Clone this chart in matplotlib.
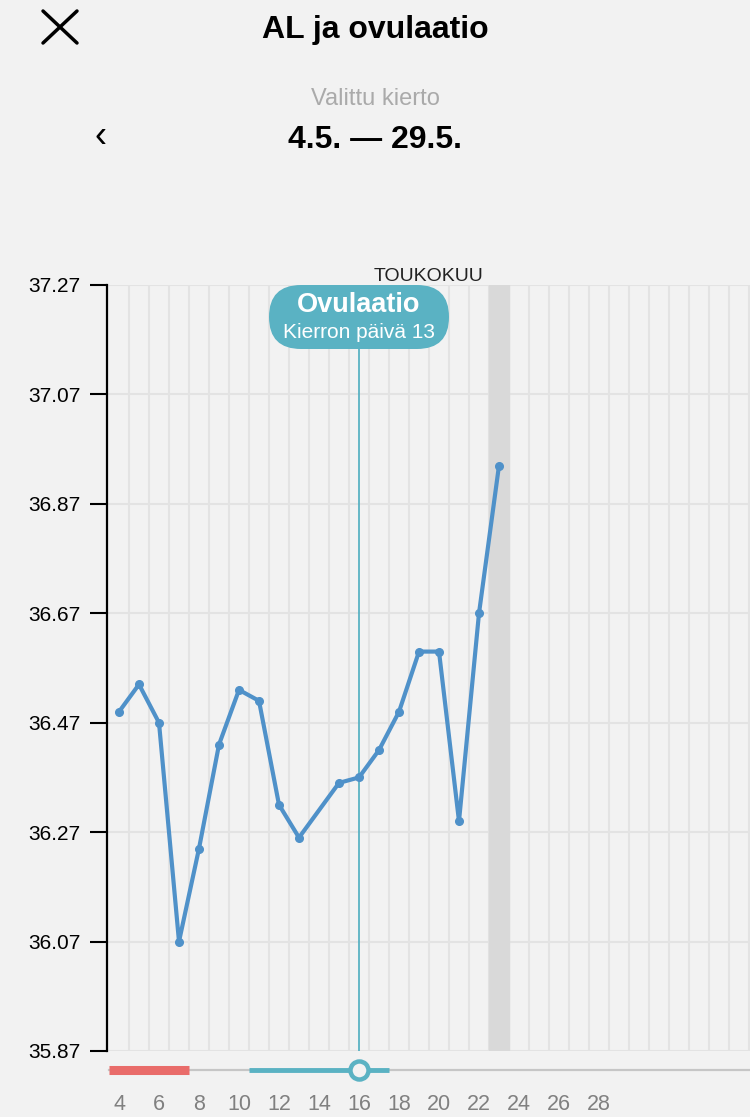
import matplotlib

matplotlib.use('agg')
import matplotlib.pyplot as plt
from matplotlib import transforms
from matplotlib.patches import FancyBboxPatch
from matplotlib.lines import Line2D

plt.rcParams['font.family'] = ['Liberation Sans', 'DejaVu Sans']

# cycle days and basal body temperature (day 14 not measured)
days = [4, 5, 6, 7, 8, 9, 10, 11, 12, 13, 15, 16, 17, 18, 19, 20, 21, 22, 23]
temps = [36.49, 36.54, 36.47, 36.07, 36.24, 36.43, 36.53, 36.51, 36.32, 36.26,
         36.36, 36.37, 36.42, 36.49, 36.60, 36.60, 36.29, 36.67, 36.94]
y_ticks = [35.87, 36.07, 36.27, 36.47, 36.67, 36.87, 37.07, 37.27]
x_ticks = [4, 6, 8, 10, 12, 14, 16, 18, 20, 22, 24, 26, 28]
ovulation_day = 16
cycle_day = 13
today = 23
period_days = (3.5, 7.5)
fertile_days = (10.5, 17.5)

BG = '#f2f2f2'
GRID = '#e3e3e3'
LINE = '#4f91c9'
TEAL = '#5ab2c3'
RED = '#e96c6a'

W, H = 750, 1117
fig = plt.figure(figsize=(W / 100, H / 100), dpi=100, facecolor=BG)


def px_axes(x0, y0, x1, y1):
    # rectangle given in pixels from top-left corner
    return fig.add_axes([x0 / W, 1 - y1 / H, (x1 - x0) / W, (y1 - y0) / H])


xlim = (3.4, 3.4 + (W - 107) / 20.0)

ax = px_axes(107, 285, W, 1051)
ax.set_facecolor(BG)
ax.set_xlim(*xlim)
ax.set_ylim(y_ticks[0], y_ticks[-1])

for s in ['top', 'right', 'bottom']:
    ax.spines[s].set_visible(False)
ax.spines['left'].set_linewidth(1.6)
ax.spines['left'].set_color('black')

ax.set_yticks(y_ticks)
ax.set_yticklabels(['%.2f' % v for v in y_ticks])
ax.tick_params(axis='y', length=12, width=1.5, pad=7, labelsize=15, colors='black')
ax.set_xticks([d + 0.5 for d in range(4, 36)])
ax.tick_params(axis='x', length=0, labelbottom=False)
ax.grid(True, color=GRID, linewidth=1.5)
ax.set_axisbelow(True)

ax.axvspan(today - 0.5, today + 0.5, color='#d9d9d9', zorder=1)
ax.axvline(ovulation_day, color=TEAL, linewidth=1.3, zorder=2)
ax.plot(days, temps, color=LINE, linewidth=3, marker='o', markersize=5.5,
        solid_joinstyle='round', zorder=3, clip_on=False)

# ovulation callout pill, offset in inches from (ovulation_day, top)
trans = fig.dpi_scale_trans + transforms.ScaledTranslation(ovulation_day, y_ticks[-1], ax.transData)
pill = FancyBboxPatch((-0.9, -0.64), 1.8, 0.64, boxstyle='round,pad=0,rounding_size=0.32',
                      transform=trans, facecolor=TEAL, edgecolor='none', zorder=5, clip_on=False)
ax.add_patch(pill)
ax.text(0, -0.20, 'Ovulaatio', transform=trans, ha='center', va='center',
        color='white', fontsize=19.5, fontweight='bold', zorder=6)
ax.text(0, -0.475, 'Kierron päivä %d' % cycle_day, transform=trans, ha='center', va='center',
        color='white', fontsize=15, zorder=6)

ax.text(ovulation_day + 3.5, y_ticks[-1], 'TOUKOKUU', transform=ax.transData,
        ha='center', va='bottom', fontsize=14, color='#222222')

# slider strip under the chart
sl = px_axes(107, 1058, W, 1082)
sl.set_facecolor('none')
sl.set_xlim(*xlim)
sl.set_ylim(0, 1)
for s in sl.spines.values():
    s.set_visible(False)
sl.set_yticks([])
sl.set_xticks(x_ticks)
sl.set_xticklabels([str(d) for d in x_ticks])
sl.tick_params(axis='x', length=0, pad=9, labelsize=15.5, colors='#808080')
sl.plot([period_days[0], xlim[1]], [0.5, 0.5], color='#c6c6c6', linewidth=1.6, clip_on=False)
sl.plot(period_days, [0.5, 0.5], color=RED, linewidth=6.5, solid_capstyle='butt')
sl.plot(fertile_days, [0.5, 0.5], color=TEAL, linewidth=3.5, solid_capstyle='butt')
sl.plot([ovulation_day], [0.5], marker='o', markersize=13, markerfacecolor=BG,
        markeredgecolor=TEAL, markeredgewidth=3.2, zorder=4)

# header
fig.text(375 / W, 1 - 30 / H, 'AL ja ovulaatio', ha='center', va='center',
         fontsize=23, fontweight='bold', color='black')
fig.text(375 / W, 1 - 99 / H, 'Valittu kierto', ha='center', va='center',
         fontsize=17, color='#aaaaaa')
fig.text(375 / W, 1 - 140 / H, '4.5. — 29.5.', ha='center', va='center',
         fontsize=23, fontweight='bold', color='black')
fig.text(100 / W, 1 - 138 / H, '‹', ha='center', va='center', fontsize=26, color='black')
fig.add_artist(Line2D([43 / W, 77 / W], [1 - 11 / H, 1 - 43 / H], color='black', linewidth=2.5,
                      solid_capstyle='round'))
fig.add_artist(Line2D([43 / W, 77 / W], [1 - 43 / H, 1 - 11 / H], color='black', linewidth=2.5,
                      solid_capstyle='round'))

fig.savefig('out.png', dpi=100, facecolor=BG)
